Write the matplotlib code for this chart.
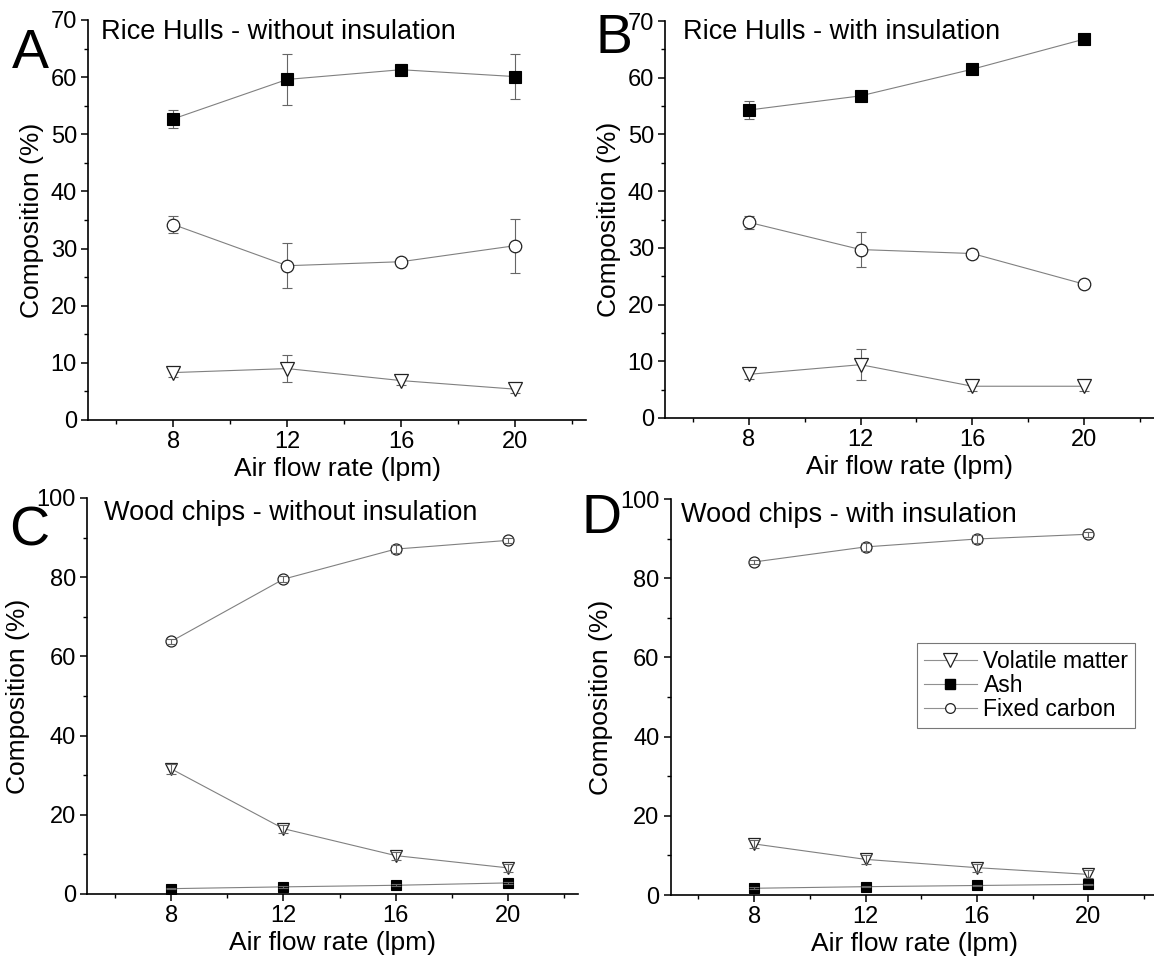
import matplotlib
matplotlib.use("Agg")
import matplotlib.pyplot as plt
from matplotlib.ticker import MultipleLocator
from matplotlib.lines import Line2D

plt.rcParams["font.family"] = ["Liberation Sans", "DejaVu Sans"]

# air flow rate (lpm)
flow = [8, 12, 16, 20]

# A: rice hulls, without insulation
rh_noins_vm = [8.3, 9.0, 6.9, 5.4]
rh_noins_vm_err = [0.8, 2.4, 0.8, 0.7]
rh_noins_ash = [52.7, 59.6, 61.3, 60.1]
rh_noins_ash_err = [1.6, 4.4, 1.0, 3.9]
rh_noins_fc = [34.2, 27.0, 27.7, 30.5]
rh_noins_fc_err = [1.5, 3.9, 0.5, 4.7]

# B: rice hulls, with insulation
rh_ins_vm = [7.7, 9.4, 5.6, 5.6]
rh_ins_vm_err = [0.8, 2.7, 0.8, 0.8]
rh_ins_ash = [54.3, 56.8, 61.5, 66.8]
rh_ins_ash_err = [1.6, 0.3, 0.3, 0.3]
rh_ins_fc = [34.5, 29.7, 29.0, 23.6]
rh_ins_fc_err = [1.2, 3.1, 0.8, 0.7]

# C: wood chips, without insulation
wc_noins_vm = [31.6, 16.5, 9.7, 6.6]
wc_noins_vm_err = [1.2, 1.0, 1.0, 1.0]
wc_noins_ash = [1.35, 1.8, 2.2, 2.8]
wc_noins_ash_err = [0.2, 0.2, 0.2, 0.2]
wc_noins_fc = [63.8, 79.5, 87.1, 89.3]
wc_noins_fc_err = [0.6, 0.8, 1.0, 0.6]

# D: wood chips, with insulation
wc_ins_vm = [12.9, 9.0, 6.9, 5.2]
wc_ins_vm_err = [1.1, 1.1, 1.0, 1.0]
wc_ins_ash = [1.7, 2.1, 2.4, 2.7]
wc_ins_ash_err = [0.2, 0.2, 0.2, 0.2]
wc_ins_fc = [84.1, 87.9, 89.9, 91.1]
wc_ins_fc_err = [0.6, 1.0, 1.0, 0.6]

titles = ["Rice Hulls - without insulation", "Rice Hulls - with insulation",
          "Wood chips - without insulation", "Wood chips - with insulation"]
letters = ["A", "B", "C", "D"]
series_names = ["Volatile matter", "Ash", "Fixed carbon"]

panels = [
    [(rh_noins_vm, rh_noins_vm_err), (rh_noins_ash, rh_noins_ash_err), (rh_noins_fc, rh_noins_fc_err)],
    [(rh_ins_vm, rh_ins_vm_err), (rh_ins_ash, rh_ins_ash_err), (rh_ins_fc, rh_ins_fc_err)],
    [(wc_noins_vm, wc_noins_vm_err), (wc_noins_ash, wc_noins_ash_err), (wc_noins_fc, wc_noins_fc_err)],
    [(wc_ins_vm, wc_ins_vm_err), (wc_ins_ash, wc_ins_ash_err), (wc_ins_fc, wc_ins_fc_err)],
]

W, H = 1154, 966
# axes boxes in pixels: left, top, right, bottom
boxes = [(88, 20, 586, 420), (665, 21, 1154, 418), (87, 498, 578, 894), (670.5, 499, 1158, 895)]
ylims = [(0, 70), (0, 70), (0, 100), (0, 100)]
ymajor = [10, 10, 20, 20]
title_pos = [(0.026, 0.9525), (0.037, 0.955), (0.035, 0.944), (0.022, 0.942)]
letter_pos = [(12, 68), (596, 53), (9, 545), (582, 533)]
err_on_top = [False, False, True, True]
small_marks = [False, False, True, True]

fig = plt.figure(figsize=(W / 100, H / 100), dpi=100)

for i, (l, t, r, b) in enumerate(boxes):
    ax = fig.add_axes([l / W, 1 - b / H, (r - l) / W, (b - t) / H])
    ax.set_xlim(5, 22.5)
    ax.set_ylim(*ylims[i])
    vm, ash, fc = panels[i]
    sc = 0.88 if small_marks[i] else 1.0
    styles = [
        dict(marker="v", ms=10 * sc, mfc="white", mec="#222222", mew=0.9),
        dict(marker="s", ms=8 * sc, mfc="black", mec="black", mew=0.8),
        dict(marker="o", ms=9 * sc, mfc="white", mec="#222222", mew=0.9),
    ]
    ez = 4 if err_on_top[i] else 1.5
    for (vals, errs), st in zip([vm, ash, fc], styles):
        ax.errorbar(flow, vals, yerr=errs, fmt="none", ecolor="#666666",
                    elinewidth=0.8, capsize=3.5, capthick=0.8, zorder=ez)
        ax.plot(flow, vals, color="#808080", lw=0.8, zorder=3, **st)

    ax.spines["top"].set_visible(False)
    ax.spines["right"].set_visible(False)
    ax.spines["left"].set_linewidth(1.2)
    ax.spines["bottom"].set_linewidth(1.2)
    ax.set_xticks(flow)
    ax.xaxis.set_minor_locator(MultipleLocator(2))
    ax.yaxis.set_major_locator(MultipleLocator(ymajor[i]))
    ax.yaxis.set_minor_locator(MultipleLocator(ymajor[i] / 2))
    ax.tick_params(which="major", direction="out", length=5, width=1.1, labelsize=17, pad=3)
    ax.tick_params(which="minor", direction="out", length=3, width=1.0)
    ax.set_xlabel("Air flow rate (lpm)", fontsize=19, labelpad=3)
    ax.set_ylabel("Composition (%)", fontsize=19, labelpad=5)
    ax.patch.set_alpha(0)
    tx, ty = title_pos[i]
    ax.text(tx, ty, titles[i], transform=ax.transAxes, fontsize=19.5, va="baseline", ha="left")
    lx, ly = letter_pos[i]
    fig.text(lx / W, 1 - ly / H, letters[i], fontsize=40, va="baseline", ha="left")

    if i == 3:
        handles = [
            Line2D([], [], color="#909090", lw=0.8, marker="v", ms=10, mfc="white", mec="#222222", mew=0.9),
            Line2D([], [], color="#909090", lw=0.8, marker="s", ms=7, mfc="black", mec="black"),
            Line2D([], [], color="#909090", lw=0.8, marker="o", ms=7, mfc="white", mec="#222222", mew=0.9),
        ]
        leg = ax.legend(handles, series_names, loc="upper left",
                        bbox_to_anchor=(917 / W, 1 - 643 / H), bbox_transform=fig.transFigure,
                        fontsize=16.5, frameon=True, fancybox=False, borderaxespad=0,
                        handlelength=2.3, handletextpad=0.3, labelspacing=0.05,
                        borderpad=0.3)
        leg.get_frame().set_edgecolor("#555555")
        leg.get_frame().set_linewidth(0.8)

fig.savefig("out.png", dpi=100)
